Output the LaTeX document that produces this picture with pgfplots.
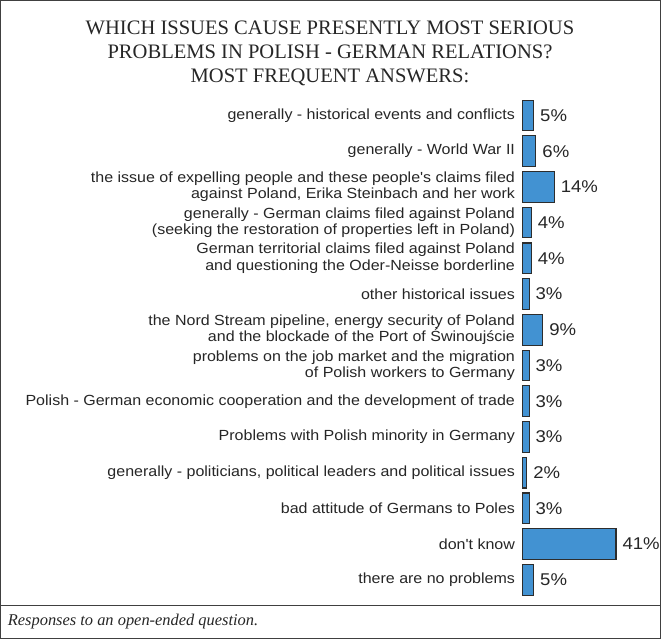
\documentclass[border=0pt]{standalone}
\usepackage{pgfplots}
\pgfplotsset{compat=1.18}
\usepackage{fontspec}
\setmainfont{Liberation Sans}
\newfontfamily\serifx{Liberation Serif}
\newfontfamily\widesans[FakeStretch=1.09]{Liberation Sans}
\definecolor{barblue}{RGB}{66,146,210}
\definecolor{bardraw}{RGB}{45,45,45}
\begin{document}
\begin{tikzpicture}
\draw[line width=0.9pt, black!75] (0.75pt,-0.75pt) rectangle (495pt,-478.5pt);
\draw[line width=0.9pt, black!75] (0.75pt,-453.75pt) -- (495pt,-453.75pt);
\node[align=center, font=\serifx\fontsize{15.4}{18}\selectfont, black!85] at (247.5pt,-40.5pt)
  {WHICH ISSUES CAUSE PRESENTLY MOST SERIOUS\\PROBLEMS IN POLISH - GERMAN RELATIONS?\\MOST FREQUENT ANSWERS:};
\node[anchor=west, inner sep=0pt, font=\serifx\itshape\fontsize{12.3}{15}\selectfont, black!85] at (6pt,-465.75pt)
  {Responses to an open-ended question.};
\begin{axis}[
  scale only axis,
  width=77.1pt, height=374.6pt,
  at={(391.5pt,-73.4pt)}, anchor=north west,
  xbar, bar width=23pt,
  xmin=0, xmax=45,
  ymin=-0.5, ymax=13.5, y dir=reverse,
  hide x axis,
  axis y line*=left,
  y axis line style={draw=none},
  ytick={0,...,13},
  ytick style={draw=none},
  yticklabel style={align=right, font=\widesans\fontsize{11}{12.4}\selectfont, black!85, inner sep=0pt, xshift=-1pt},
  yticklabels={
    {generally - historical events and conflicts},
    {generally - World War II},
    {the issue of expelling people and these people's claims filed\\against Poland, Erika Steinbach and her work},
    {generally - German claims filed against Poland\\(seeking the restoration of properties left in Poland)},
    {German territorial claims filed against Poland\\and questioning the Oder-Neisse borderline},
    {other historical issues},
    {the Nord Stream pipeline, energy security of Poland\\and the blockade of the Port of Świnoujście},
    {problems on the job market and the migration\\of Polish workers to Germany},
    {Polish - German economic cooperation and the development of trade},
    {Problems with Polish minority in Germany},
    {generally - politicians, political leaders and political issues},
    {bad attitude of Germans to Poles},
    {don't know},
    {there are no problems}
  },
  /pgf/number format/assume math mode=true,
  nodes near coords={\pgfmathprintnumber{\pgfplotspointmeta}\%},
  every node near coord/.append style={anchor=west, inner sep=0pt, xshift=4.5pt, font=\widesans\fontsize{12.75}{15}\selectfont, black!85},
  clip=false,
]
\addplot[fill=barblue, draw=bardraw, line width=0.8pt] coordinates {
  (5,0) (6,1) (14,2) (4,3) (4,4) (3,5) (9,6) (3,7) (3,8) (3,9) (2,10) (3,11) (41,12) (5,13)
};
\end{axis}
\end{tikzpicture}
\end{document}
